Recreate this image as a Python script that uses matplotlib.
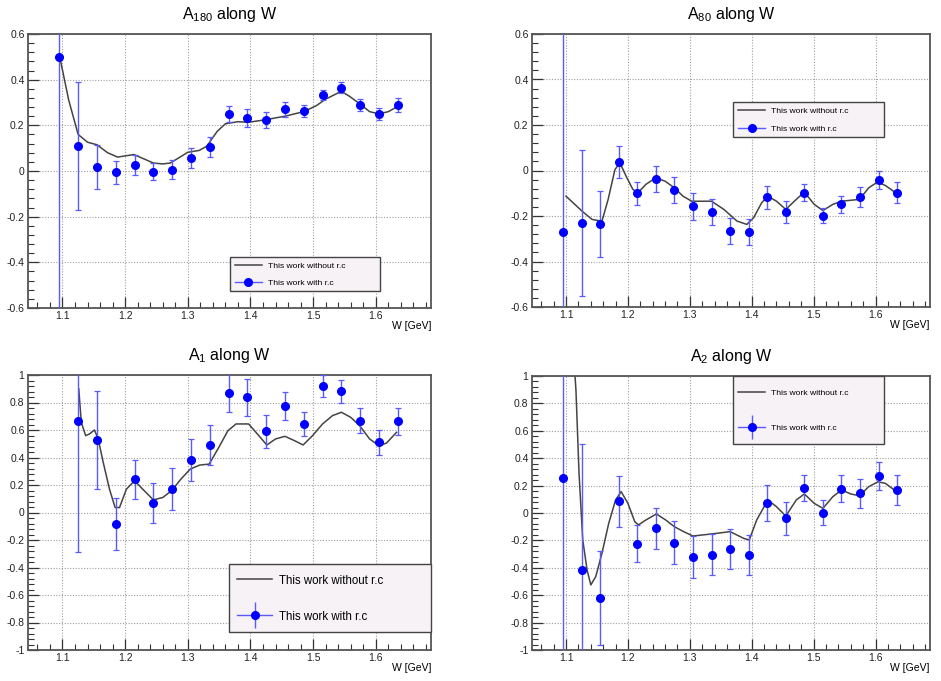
import matplotlib
matplotlib.use("Agg")
import matplotlib.pyplot as plt
from matplotlib.ticker import MultipleLocator, FuncFormatter
from matplotlib.lines import Line2D
from matplotlib.patches import Rectangle
from matplotlib.container import ErrorbarContainer
from matplotlib.legend_handler import HandlerErrorbar, HandlerTuple

plt.rcParams['font.family'] = ['Liberation Sans', 'DejaVu Sans']
plt.rcParams['mathtext.default'] = 'regular'
plt.rcParams['axes.unicode_minus'] = False

# ---------------- data ----------------
W_pts = [1.095, 1.125, 1.155, 1.185, 1.215, 1.245, 1.275, 1.305, 1.335, 1.365,
         1.395, 1.425, 1.455, 1.485, 1.515, 1.545, 1.575, 1.605, 1.635]

# A180
a180_val = [0.50, 0.108, 0.016, -0.006, 0.025, -0.004, 0.006, 0.058, 0.104, 0.25,
            0.232, 0.225, 0.27, 0.264, 0.334, 0.365, 0.289, 0.251, 0.289]
a180_err = [1.5, 0.28, 0.096, 0.05, 0.043, 0.037, 0.04, 0.043, 0.043, 0.036,
            0.038, 0.035, 0.034, 0.026, 0.022, 0.025, 0.026, 0.027, 0.032]
a180_cW = [1.096, 1.11, 1.125, 1.14, 1.155, 1.172, 1.188, 1.214, 1.23, 1.245, 1.26,
           1.272, 1.287, 1.30, 1.318, 1.33, 1.347, 1.36, 1.38, 1.396, 1.425, 1.455,
           1.485, 1.505, 1.52, 1.545, 1.558, 1.575, 1.59, 1.605, 1.62, 1.635]
a180_cV = [0.495, 0.31, 0.16, 0.126, 0.115, 0.08, 0.061, 0.072, 0.053, 0.035, 0.031,
           0.035, 0.06, 0.082, 0.09, 0.108, 0.174, 0.207, 0.216, 0.213, 0.225, 0.24,
           0.26, 0.286, 0.315, 0.349, 0.327, 0.293, 0.26, 0.25, 0.26, 0.283]

# A80
a80_val = [-0.27, -0.23, -0.235, 0.038, -0.101, -0.037, -0.085, -0.158, -0.183, -0.266,
           -0.269, -0.117, -0.182, -0.098, -0.198, -0.148, -0.116, -0.04, -0.098]
a80_err = [1.0, 0.32, 0.145, 0.07, 0.05, 0.057, 0.057, 0.06, 0.058, 0.059,
           0.058, 0.051, 0.047, 0.037, 0.034, 0.037, 0.043, 0.04, 0.046]
a80_cW = [1.1, 1.126, 1.142, 1.158, 1.168, 1.179, 1.187, 1.197, 1.208, 1.216, 1.229,
          1.245, 1.26, 1.275, 1.289, 1.303, 1.321, 1.335, 1.355, 1.376, 1.392, 1.403,
          1.416, 1.426, 1.44, 1.455, 1.472, 1.485, 1.501, 1.515, 1.531, 1.545, 1.574,
          1.589, 1.603, 1.616, 1.634]
a80_cV = [-0.113, -0.179, -0.215, -0.223, -0.127, 0.004, 0.034, -0.025, -0.083, -0.098,
          -0.061, -0.032, -0.047, -0.076, -0.113, -0.135, -0.135, -0.135, -0.171, -0.222,
          -0.237, -0.208, -0.142, -0.113, -0.135, -0.171, -0.127, -0.095, -0.149, -0.176,
          -0.149, -0.135, -0.127, -0.076, -0.051, -0.066, -0.101]

# A1
a1_W = W_pts[1:]
a1_val = [0.668, 0.527, -0.085, 0.243, 0.068, 0.168, 0.382, 0.491, 0.87, 0.838,
          0.59, 0.775, 0.646, 0.919, 0.882, 0.668, 0.51, 0.663]
a1_err = [0.955, 0.355, 0.19, 0.142, 0.146, 0.153, 0.155, 0.145, 0.14, 0.136,
          0.122, 0.105, 0.088, 0.079, 0.084, 0.09, 0.09, 0.097]
a1_cW = [1.126, 1.13, 1.137, 1.143, 1.151, 1.157, 1.165, 1.175, 1.184, 1.191, 1.202,
         1.215, 1.228, 1.245, 1.26, 1.274, 1.289, 1.304, 1.319, 1.334, 1.348, 1.364,
         1.377, 1.39, 1.397, 1.411, 1.426, 1.44, 1.455, 1.47, 1.484, 1.499, 1.515,
         1.531, 1.545, 1.56, 1.574, 1.59, 1.605, 1.617, 1.633]
a1_cV = [0.899, 0.656, 0.559, 0.571, 0.6, 0.535, 0.365, 0.17, 0.036, 0.036, 0.17,
         0.231, 0.17, 0.092, 0.109, 0.158, 0.243, 0.316, 0.345, 0.352, 0.462, 0.595,
         0.644, 0.644, 0.644, 0.571, 0.491, 0.535, 0.554, 0.523, 0.491, 0.559, 0.644,
         0.705, 0.729, 0.692, 0.632, 0.535, 0.486, 0.505, 0.583]

# A2
a2_val = [0.258, -0.416, -0.622, 0.085, -0.226, -0.112, -0.216, -0.321, -0.306, -0.265,
          -0.306, 0.07, -0.039, 0.182, 0.002, 0.177, 0.143, 0.27, 0.165]
a2_err = [1.5, 0.92, 0.345, 0.187, 0.135, 0.148, 0.155, 0.154, 0.15, 0.146,
          0.145, 0.131, 0.119, 0.098, 0.091, 0.1, 0.107, 0.102, 0.11]
a2_cW = [1.108, 1.116, 1.121, 1.127, 1.134, 1.14, 1.148, 1.158, 1.169, 1.18, 1.189,
         1.2, 1.211, 1.217, 1.229, 1.246, 1.261, 1.275, 1.29, 1.305, 1.321, 1.337,
         1.365, 1.387, 1.396, 1.408, 1.426, 1.44, 1.455, 1.472, 1.485, 1.501, 1.515,
         1.531, 1.545, 1.56, 1.574, 1.589, 1.604, 1.616, 1.634]
a2_cV = [1.45, 0.897, 0.289, -0.197, -0.416, -0.525, -0.464, -0.294, -0.075, 0.095,
         0.156, 0.07, -0.063, -0.087, -0.051, -0.007, -0.051, -0.1, -0.136, -0.168,
         -0.16, -0.152, -0.136, -0.185, -0.197, -0.051, 0.095, 0.046, -0.022, 0.095,
         0.139, 0.07, 0.034, 0.119, 0.168, 0.139, 0.126, 0.192, 0.228, 0.216, 0.156]

titles = ['A$_{180}$ along W', 'A$_{80}$ along W', 'A$_{1}$ along W', 'A$_{2}$ along W']
label_curve = 'This work without r.c'
label_pts = 'This work with r.c'
xlabel = 'W [GeV]'

# ---------------- style ----------------
FRAME = '#555555'
BLUE = '#0000ff'
EBLUE = '#5a5aff'
CURVE = '#444444'
LEGBG = '#f6f2f6'

fig = plt.figure(figsize=(9.41, 6.81), dpi=100)
W_, H_ = 941, 681
PT = 100 / 72.0  # px per point


def axes_px(l, t, r, b):
    ax = fig.add_axes([l / W_, 1 - b / H_, (r - l) / W_, (b - t) / H_])
    ax._px = (l, t, r, b)
    return ax


def fmt(v, pos):
    v = round(v, 6)
    if abs(v) < 1e-9:
        return '0'
    return f'{v:g}'


def setup(ax, ylim, title):
    ax.set_xlim(1.045, 1.688)
    ax.set_ylim(*ylim)
    ax.xaxis.set_major_locator(MultipleLocator(0.1))
    ax.xaxis.set_minor_locator(MultipleLocator(0.02))
    ax.yaxis.set_major_locator(MultipleLocator(0.2))
    ax.yaxis.set_minor_locator(MultipleLocator(0.04))
    ax.xaxis.set_major_formatter(FuncFormatter(fmt))
    ax.yaxis.set_major_formatter(FuncFormatter(fmt))
    ax.tick_params(which='both', direction='in', top=False, right=False,
                   labelsize=7.5, colors='#222222', pad=2.5)
    ax.tick_params(which='major', length=8, width=0.9, color='#333333')
    ax.tick_params(which='minor', length=4, width=0.8, color='#333333')
    ax.grid(True, which='major', linestyle=(0, (1, 1.5)), color='#a0a0a0', linewidth=0.8)
    ax.set_axisbelow(True)
    for s in ax.spines.values():
        s.set_color(FRAME)
        s.set_linewidth(1.3)
    ax.set_title(title, fontsize=11.5, pad=11)
    ax.set_xlabel(xlabel, loc='right', fontsize=7.5, labelpad=0)


def draw(ax, cW, cV, pW, pV, pE):
    ax.plot(cW, cV, color=CURVE, lw=1.1, zorder=2)
    ax.errorbar(pW, pV, yerr=pE, fmt='o', color=BLUE, ms=5.5, ecolor=EBLUE,
                elinewidth=1.0, capsize=2.2, capthick=0.9, zorder=3)


def legend(ax, box, fs, first, sep, hleft, hlen, tpad, yerr):
    """box: (l, t, r, b) in figure px; first: px from box top to first row
    centre; sep: px between row centres; hleft: px from box left to handle."""
    l0, t0, r0, b0 = ax._px
    aw, ah = r0 - l0, b0 - t0
    l, t, r, b = box
    ax.add_patch(Rectangle(((l - l0) / aw, (b0 - b) / ah), (r - l) / aw, (b - t) / ah,
                           transform=ax.transAxes, facecolor=LEGBG,
                           edgecolor='#444444', linewidth=1.0, zorder=4,
                           clip_on=False))
    rowh = 1.0 * fs * PT          # approximate row height in px
    ls = (sep - rowh) / (fs * PT)
    anchor_y = t + first - rowh / 2
    h_line = Line2D([], [], color=CURVE, lw=1.1)
    proxy_eb = ax.errorbar([], [], yerr=[], fmt='o', color=BLUE, ms=5.5,
                           ecolor=EBLUE, elinewidth=1.0)
    h_ln2 = Line2D([], [], color=EBLUE, lw=1.0)
    leg = ax.legend([h_line, (h_ln2, proxy_eb)], [label_curve, label_pts],
                    loc='upper left',
                    bbox_to_anchor=((l + hleft - l0) / aw, (b0 - anchor_y) / ah),
                    borderaxespad=0, borderpad=0, fontsize=fs,
                    handlelength=hlen / (fs * PT), handletextpad=tpad / (fs * PT),
                    handleheight=1.0, labelspacing=ls, frameon=False,
                    handler_map={tuple: HandlerTuple(ndivide=1),
                                 ErrorbarContainer: HandlerErrorbar(yerr_size=yerr)})
    leg.set_zorder(5)
    return leg


# Panel 1: A180
ax1 = axes_px(28, 34, 431, 308)
setup(ax1, (-0.6, 0.6), titles[0])
draw(ax1, a180_cW, a180_cV, W_pts, a180_val, a180_err)
legend(ax1, (230, 257, 380, 291), 6.1, 8.7, 17.0, 5, 27, 6, 0.45)

# Panel 2: A80
ax2 = axes_px(532, 34, 930, 307)
setup(ax2, (-0.6, 0.6), titles[1])
draw(ax2, a80_cW, a80_cV, W_pts, a80_val, a80_err)
legend(ax2, (733, 102, 884, 137), 6.1, 9.0, 17.3, 5, 27, 6, 0.45)

# Panel 3: A1
ax3 = axes_px(28, 375, 431, 650)
setup(ax3, (-1, 1), titles[2])
draw(ax3, a1_cW, a1_cV, a1_W, a1_val, a1_err)
legend(ax3, (229, 564, 431, 632), 8.3, 16.7, 35.0, 8, 35, 7, 1.1)

# Panel 4: A2
ax4 = axes_px(532, 376, 930, 650)
setup(ax4, (-1, 1), titles[3])
draw(ax4, a2_cW, a2_cV, W_pts, a2_val, a2_err)
legend(ax4, (733, 376, 884, 444), 6.1, 16.7, 35.0, 5, 27, 6, 1.45)

fig.savefig('out.png', dpi=100)
